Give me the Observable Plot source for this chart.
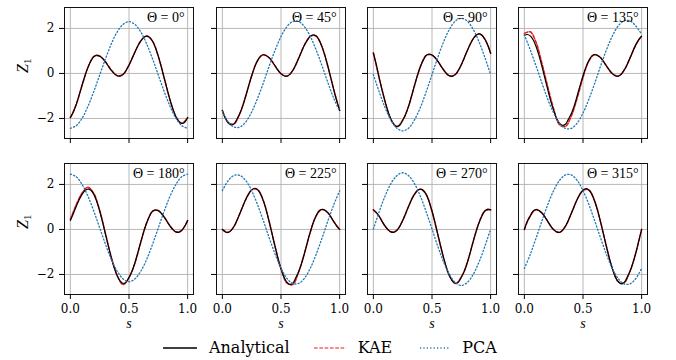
<!DOCTYPE html>
<html>
<head>
<meta charset="utf-8">
<script src="https://cdn.jsdelivr.net/npm/d3@7"></script>
<script src="https://cdn.jsdelivr.net/npm/@observablehq/plot@0.6"></script>
<style>
  body { margin: 0; background: #fff; }
  #chart { position: relative; width: 676px; height: 360px; overflow: hidden; background: #fff; }
  #chart svg.panel { position: absolute; }
  .legend { position: absolute; left: 163px; top: 338px; display: flex; align-items: center;
            font-family: "DejaVu Serif", serif; font-size: 16px; color: #000; line-height: 20px; }
  .legend svg { display: block; }
</style>
</head>
<body>
<div id="chart"></div>
<script>
// ---------- data ----------
const thetaLabels = ["Θ = 0°", "Θ = 45°", "Θ = 90°", "Θ = 135°", "Θ = 180°", "Θ = 225°", "Θ = 270°", "Θ = 315°"];
const seriesNames = ["Analytical", "KAE", "PCA"];
const xTicks = [0, 0.5, 1];
const yTicks = [-2, 0, 2];

const sFine = [0,0.025,0.05,0.075,0.1,0.125,0.15,0.175,0.2,0.225,0.25,0.275,0.3,0.325,0.35,0.375,0.4,0.425,0.45,0.475,0.5,0.525,0.55,0.575,0.6,0.625,0.65,0.675,0.7,0.725,0.75,0.775,0.8,0.825,0.85,0.875,0.9,0.925,0.95,0.975,1];
const sCoarse = [0,0.05,0.1,0.15,0.2,0.25,0.3,0.35,0.4,0.45,0.5,0.55,0.6,0.65,0.7,0.75,0.8,0.85,0.9,0.95,1];

const analytical_0   = [-1.96,-1.72,-1.38,-0.96,-0.52,-0.10,0.27,0.55,0.75,0.81,0.77,0.67,0.51,0.32,0.14,-0.01,-0.10,-0.12,-0.04,0.13,0.37,0.65,0.94,1.22,1.44,1.60,1.66,1.61,1.44,1.15,0.76,0.30,-0.20,-0.70,-1.18,-1.59,-1.92,-2.13,-2.22,-2.17,-1.96];
const analytical_45  = [-1.64,-1.98,-2.19,-2.29,-2.24,-2.02,-1.77,-1.42,-0.99,-0.54,-0.10,0.28,0.57,0.77,0.83,0.79,0.69,0.53,0.33,0.14,-0.01,-0.10,-0.12,-0.04,0.13,0.38,0.67,0.97,1.26,1.48,1.65,1.71,1.66,1.48,1.18,0.78,0.31,-0.21,-0.72,-1.22,-1.64];
const analytical_90  = [0.90,0.40,-0.21,-0.74,-1.25,-1.69,-2.04,-2.26,-2.35,-2.30,-2.08,-1.82,-1.46,-1.02,-0.55,-0.11,0.29,0.58,0.80,0.86,0.82,0.71,0.54,0.34,0.15,-0.01,-0.11,-0.12,-0.04,0.14,0.39,0.69,1.00,1.29,1.53,1.70,1.76,1.71,1.53,1.26,0.90];
const analytical_135 = [1.70,1.73,1.67,1.50,1.20,0.79,0.31,-0.21,-0.73,-1.23,-1.65,-2.00,-2.22,-2.31,-2.26,-2.04,-1.79,-1.44,-1.00,-0.54,-0.10,0.28,0.57,0.78,0.84,0.80,0.70,0.53,0.33,0.15,-0.01,-0.10,-0.12,-0.04,0.14,0.38,0.68,0.98,1.27,1.50,1.66];
const analytical_180 = [0.40,0.70,1.02,1.32,1.56,1.73,1.79,1.74,1.56,1.24,0.82,0.32,-0.22,-0.76,-1.27,-1.72,-2.07,-2.30,-2.40,-2.34,-2.12,-1.86,-1.49,-1.04,-0.56,-0.11,0.29,0.59,0.81,0.87,0.83,0.72,0.55,0.35,0.15,-0.01,-0.11,-0.13,-0.04,0.14,0.40];
const analytical_225 = [0.00,-0.11,-0.13,-0.04,0.14,0.41,0.72,1.03,1.34,1.58,1.76,1.83,1.77,1.58,1.27,0.84,0.33,-0.22,-0.77,-1.30,-1.75,-2.11,-2.34,-2.44,-2.39,-2.16,-1.89,-1.52,-1.06,-0.57,-0.11,0.30,0.61,0.83,0.89,0.85,0.74,0.56,0.35,0.15,0.00];
const analytical_270 = [0.87,0.76,0.58,0.35,0.15,-0.01,-0.11,-0.13,-0.04,0.14,0.40,0.70,1.02,1.32,1.56,1.73,1.79,1.74,1.56,1.24,0.82,0.32,-0.22,-0.76,-1.27,-1.72,-2.07,-2.30,-2.40,-2.34,-2.12,-1.86,-1.49,-1.04,-0.56,-0.11,0.29,0.59,0.82,0.90,0.87];
const analytical_315 = [0.00,0.36,0.60,0.82,0.88,0.84,0.73,0.56,0.35,0.15,-0.01,-0.11,-0.13,-0.04,0.14,0.40,0.71,1.02,1.33,1.57,1.74,1.81,1.75,1.57,1.25,0.83,0.33,-0.22,-0.76,-1.29,-1.73,-2.09,-2.32,-2.42,-2.37,-2.14,-1.87,-1.50,-1.05,-0.52,0.00];

const kae_0   = [-1.96,-1.38,-0.52,0.27,0.75,0.77,0.51,0.14,-0.10,-0.04,0.37,0.94,1.44,1.66,1.44,0.76,-0.20,-1.18,-1.92,-2.22,-1.96];
const kae_45  = [-1.64,-2.19,-2.24,-1.77,-0.99,-0.10,0.57,0.83,0.69,0.33,-0.01,-0.12,0.13,0.67,1.26,1.65,1.66,1.18,0.31,-0.72,-1.64];
const kae_90  = [0.92,-0.21,-1.25,-2.04,-2.37,-2.08,-1.46,-0.55,0.29,0.80,0.82,0.54,0.15,-0.11,-0.04,0.39,1.00,1.53,1.76,1.53,0.90];
const kae_135 = [1.78,1.85,1.38,0.45,-0.60,-1.58,-2.28,-2.35,-1.90,-1.10,-0.18,0.55,0.84,0.70,0.33,-0.01,-0.12,0.14,0.68,1.27,1.66];
const kae_180 = [0.45,1.10,1.62,1.88,1.60,0.85,-0.20,-1.25,-2.05,-2.45,-2.15,-1.50,-0.58,0.28,0.80,0.84,0.55,0.16,-0.11,-0.04,0.40];
const kae_225 = [0.00,-0.13,0.14,0.72,1.34,1.76,1.77,1.27,0.33,-0.77,-1.75,-2.38,-2.45,-1.89,-1.06,-0.11,0.61,0.89,0.74,0.35,0.00];
const kae_270 = [0.87,0.58,0.15,-0.11,-0.04,0.40,1.02,1.56,1.79,1.56,0.80,-0.25,-1.30,-2.07,-2.40,-2.12,-1.49,-0.56,0.29,0.82,0.87];
const kae_315 = [0.00,0.60,0.88,0.73,0.35,-0.01,-0.13,0.14,0.71,1.33,1.74,1.75,1.25,0.33,-0.76,-1.73,-2.32,-2.37,-1.87,-1.05,0.00];

const pca_0   = [-2.44,-2.32,-1.99,-1.46,-0.80,-0.07,0.66,1.32,1.85,2.18,2.30,2.18,1.85,1.32,0.66,-0.07,-0.80,-1.46,-1.99,-2.32,-2.44];
const pca_45  = [-1.68,-2.15,-2.38,-2.38,-2.15,-1.71,-1.11,-0.41,0.34,1.04,1.64,2.08,2.31,2.31,2.08,1.64,1.04,0.34,-0.41,-1.11,-1.68];
const pca_90  = [-0.05,-0.82,-1.52,-2.07,-2.43,-2.55,-2.43,-2.07,-1.52,-0.82,-0.05,0.72,1.42,1.97,2.33,2.45,2.33,1.97,1.42,0.72,-0.05];
const pca_135 = [1.72,1.05,0.33,-0.43,-1.15,-1.76,-2.21,-2.44,-2.44,-2.21,-1.76,-1.15,-0.43,0.33,1.05,1.66,2.11,2.34,2.34,2.11,1.74];
const pca_180 = [2.46,2.34,2.00,1.48,0.81,0.07,-0.67,-1.34,-1.86,-2.20,-2.32,-2.20,-1.86,-1.34,-0.67,0.07,0.81,1.48,2.00,2.34,2.46];
const pca_225 = [1.72,2.17,2.40,2.40,2.17,1.72,1.10,0.38,-0.38,-1.10,-1.72,-2.17,-2.40,-2.40,-2.17,-1.72,-1.10,-0.38,0.38,1.10,1.72];
const pca_270 = [0.02,0.79,1.49,2.04,2.39,2.52,2.39,2.04,1.49,0.79,0.02,-0.76,-1.46,-2.01,-2.36,-2.49,-2.36,-2.01,-1.46,-0.76,0.02];
const pca_315 = [-1.73,-1.11,-0.38,0.38,1.11,1.73,2.18,2.42,2.42,2.18,1.73,1.11,0.38,-0.38,-1.11,-1.73,-2.18,-2.42,-2.42,-2.18,-1.73];

// ---------- layout & style ----------
const analyticalSets = [analytical_0, analytical_45, analytical_90, analytical_135, analytical_180, analytical_225, analytical_270, analytical_315];
const kaeSets = [kae_0, kae_45, kae_90, kae_135, kae_180, kae_225, kae_270, kae_315];
const pcaSets = [pca_0, pca_45, pca_90, pca_135, pca_180, pca_225, pca_270, pca_315];

const colLeft = [64, 216, 367, 518];
const rowTop = [7, 163];
const FW = 129, FH = 131;
const ML = 50, MR = 12, MT = 5, MB = 45;
const colors = {analytical: "#000000", kae: "#e8191b", pca: "#1f77b4"};
const dashKAE = "3.7,1.6";
const dashPCA = "1.2,2.2";

const chart = document.getElementById("chart");

for (let i = 0; i < 8; i++) {
  const row = Math.floor(i / 4), col = i % 4;
  const bottomRow = row === 1, leftCol = col === 0;
  const marks = [
    Plot.gridX(xTicks, {stroke: "#b0b0b0", strokeOpacity: 1, strokeWidth: 0.9}),
    Plot.gridY(yTicks, {stroke: "#b0b0b0", strokeOpacity: 1, strokeWidth: 0.9}),
    Plot.line(kaeSets[i], {x: sCoarse, y: kaeSets[i], stroke: colors.kae, strokeWidth: 1.5, strokeDasharray: dashKAE, curve: "catmull-rom"}),
    Plot.line(analyticalSets[i], {x: sFine, y: analyticalSets[i], stroke: colors.analytical, strokeWidth: 1.2, curve: "catmull-rom"}),
    Plot.line(pcaSets[i], {x: sCoarse, y: pcaSets[i], stroke: colors.pca, strokeWidth: 1.3, strokeDasharray: dashPCA, curve: "catmull-rom"}),
    Plot.frame({stroke: "#111", strokeWidth: 1}),
    Plot.axisX(xTicks, {tickSize: 5, tickPadding: 5, label: null,
      tickFormat: bottomRow ? d3.format(".1f") : () => ""}),
    Plot.axisY(yTicks, {tickSize: 5, tickPadding: 5, label: null,
      tickFormat: leftCol ? d3.format("") : () => ""}),
    Plot.text([thetaLabels[i]], {text: d => d, frameAnchor: "top-right", lineAnchor: "top", dx: -9, dy: 5,
      fontFamily: "Liberation Serif", fontSize: 14, fill: "#000"})
  ];
  if (leftCol) {
    marks.push(Plot.text(["Z"], {text: d => d, frameAnchor: "left", dx: -42, rotate: -90,
      fontFamily: "Liberation Serif", fontStyle: "italic", fontSize: 16, fill: "#000"}));
  }
  if (bottomRow) {
    marks.push(Plot.text(["s"], {text: d => d, frameAnchor: "bottom", dy: 33,
      fontFamily: "Liberation Serif", fontStyle: "italic", fontSize: 14, fill: "#000"}));
  }
  const svg = Plot.plot({
    width: ML + FW + MR,
    height: MT + FH + MB,
    marginLeft: ML, marginRight: MR, marginTop: MT, marginBottom: MB,
    x: {domain: [-0.05, 1.05]},
    y: {domain: [-2.89, 2.93]},
    style: {fontFamily: "DejaVu Serif", fontSize: "12px", background: "transparent", overflow: "visible", color: "#000"},
    marks
  });
  svg.classList.add("panel");
  svg.style.position = "absolute";
  svg.style.left = (colLeft[col] - ML) + "px";
  svg.style.top = (rowTop[row] - MT) + "px";
  svg.style.maxWidth = "none";
  // subscript for Z_1
  d3.select(svg).selectAll("text").filter(function () { return this.textContent === "Z"; })
    .append("tspan").attr("dy", "0.3em").attr("font-size", "11px").attr("font-style", "normal").text("1");
  chart.appendChild(svg);
}

// ---------- legend ----------
const legend = document.createElement("div");
legend.className = "legend";
const items = [
  {name: seriesNames[0], color: colors.analytical, dash: null, w: 34, lw: 1.4, gap: 24},
  {name: seriesNames[1], color: colors.kae, dash: dashKAE, w: 32, lw: 1, gap: 28},
  {name: seriesNames[2], color: colors.pca, dash: dashPCA, w: 30, lw: 1.3, gap: 0}
];
items.forEach(it => {
  const s = d3.create("svg").attr("width", it.w).attr("height", 10).style("margin-right", "12px");
  s.append("line").attr("x1", 0).attr("x2", it.w).attr("y1", 5).attr("y2", 5)
    .attr("stroke", it.color).attr("stroke-width", it.lw).attr("stroke-dasharray", it.dash);
  legend.appendChild(s.node());
  const t = document.createElement("span");
  t.textContent = it.name;
  t.style.marginRight = it.gap + "px";
  legend.appendChild(t);
});
chart.appendChild(legend);
</script>
</body>
</html>
